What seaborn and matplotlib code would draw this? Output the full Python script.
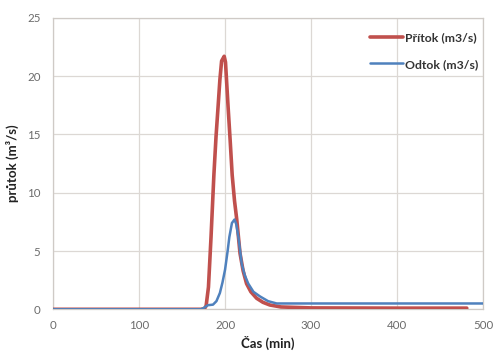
import matplotlib
matplotlib.use("Agg")
import matplotlib.pyplot as plt
import seaborn as sns
import pandas as pd

# Inflow hydrograph (Přítok), time in minutes, discharge in m3/s
inflow_time = [0, 172, 176, 178, 180.7, 183.7, 187, 189.5, 192, 194, 196, 197.5, 199,
               200.5, 203.5, 206, 208.3, 211, 213.6, 217.4, 221, 225, 230, 236.8,
               244, 252, 265, 300, 400, 481]
inflow_q = [0, 0, 0.05, 0.3, 1.9, 6.2, 11.5, 14.8, 17.5, 19.7, 21.3, 21.5, 21.7,
            21.2, 17.4, 14.4, 11.5, 9.3, 7.7, 4.8, 3.3, 2.2, 1.5, 0.94,
            0.6, 0.37, 0.2, 0.12, 0.1, 0.1]

# Outflow hydrograph (Odtok)
outflow_time = [0, 172, 176, 180, 186, 190, 194, 197, 200, 203, 205, 208, 211, 213,
                215.5, 219.4, 223, 227, 233, 240.7, 250, 260, 300, 400, 500]
outflow_q = [0, 0, 0.15, 0.35, 0.4, 0.7, 1.4, 2.3, 3.4, 5.0, 6.2, 7.4, 7.7, 7.3,
             6.2, 3.9, 2.9, 2.2, 1.5, 1.1, 0.7, 0.5, 0.5, 0.5, 0.5]

x_ticks = [0, 100, 200, 300, 400, 500]
y_ticks = [0, 5, 10, 15, 20, 25]

sns.set_theme(style="white")
plt.rcParams["font.family"] = ["Lato", "DejaVu Sans"]

fig = plt.figure(figsize=(4.93, 3.51), dpi=100)
ax = fig.add_axes([0.1075, 0.1188, 0.8725, 0.8305])

inflow = pd.DataFrame({"t": inflow_time, "q": inflow_q})
outflow = pd.DataFrame({"t": outflow_time, "q": outflow_q})

sns.lineplot(data=inflow, x="t", y="q", ax=ax, color="#C0504D", linewidth=2.6,
             label="Přítok (m3/s)", zorder=3)
sns.lineplot(data=outflow, x="t", y="q", ax=ax, color="#4F81BD", linewidth=1.8,
             label="Odtok (m3/s)", zorder=4)

ax.set_xlim(0, 500)
ax.set_ylim(0, 25)
ax.set_xticks(x_ticks)
ax.set_yticks(y_ticks)
ax.grid(True, color="#dcd8d4", linewidth=0.9)
ax.set_axisbelow(True)
for s in ax.spines.values():
    s.set_color("#cfcac6")
    s.set_linewidth(0.9)
ax.tick_params(axis="both", length=0, labelsize=8.3, labelcolor="#6b6b6b")
ax.tick_params(axis="x", pad=8)
ax.tick_params(axis="y", pad=9)

ax.set_xlabel("Čas (min)", fontsize=9.5, fontweight="bold", color="#222222", labelpad=3)
ax.set_ylabel("průtok (m³/s)", fontsize=9.5, fontweight="bold", color="#222222", labelpad=6)

leg = ax.legend(loc="upper right", bbox_to_anchor=(1.005, 0.975), frameon=False,
                fontsize=8.8, handlelength=2.7, handletextpad=0.15,
                labelspacing=1.25, borderaxespad=0.2)
for txt in leg.get_texts():
    txt.set_fontweight("bold")
    txt.set_color("#333333")

fig.savefig("out.png", dpi=100)
